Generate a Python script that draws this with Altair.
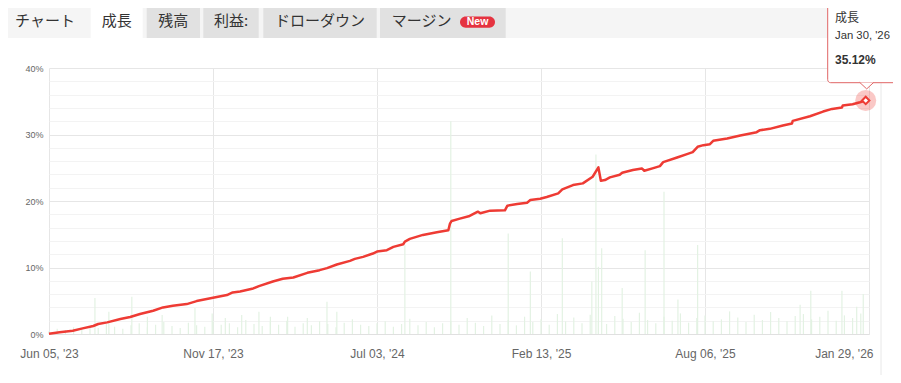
import json
import altair as alt
import pandas as pd

# ---------------- data ----------------
# x position of each reading, in trading-step units (0 .. 1000 across the axis)
step = [0, 13, 29, 41, 54, 60, 71, 87, 99, 111, 127, 139, 151, 168, 180, 200, 217, 224, 233, 249,
        256, 273, 285, 298, 315, 330, 339, 351, 367, 373, 383, 395, 400, 412, 420, 432, 434, 440, 456, 473,
        487, 489, 491, 501, 513, 523, 526, 538, 556, 559, 571, 583, 587, 599, 607, 621, 626, 639, 651, 663,
        670, 673, 678, 684, 696, 699, 712, 723, 726, 737, 745, 749, 766, 778, 785, 791, 798, 806, 810, 827,
        843, 863, 867, 879, 895, 906, 907, 928, 944, 955, 967, 968, 980, 989, 996]
growth = [0.05, 0.25, 0.5, 0.85, 1.2, 1.5, 1.75, 2.25, 2.55, 3.0, 3.5, 4.0, 4.25, 4.5, 4.95, 5.45, 5.85, 6.25, 6.4, 6.85,
          7.2, 7.9, 8.3, 8.5, 9.2, 9.6, 9.9, 10.45, 11.0, 11.3, 11.6, 12.1, 12.4, 12.6, 13.1, 13.5, 13.9, 14.3, 14.9, 15.3,
          15.6, 16.6, 17.0, 17.35, 17.75, 18.4, 18.15, 18.55, 18.6, 19.3, 19.55, 19.75, 20.15, 20.35, 20.6, 21.15, 21.75, 22.4, 22.65, 23.65,
          25.05, 23.05, 23.15, 23.55, 23.95, 24.25, 24.65, 24.9, 24.55, 24.95, 25.25, 25.85, 26.55, 27.05, 27.35, 28.15, 28.4, 28.55, 29.05, 29.4,
          29.85, 30.35, 30.65, 30.85, 31.35, 31.65, 32.05, 32.75, 33.45, 33.85, 34.05, 34.35, 34.55, 34.85, 35.12]

# faint green activity bars (position, height in %)
small_bar_step = [i * 10 for i in range(100)]
small_bar_h = [0.4, 0.8, 0.6, 1.0, 0.7, 1.2, 0.9, 1.5, 1.1, 0.8,
               1.3, 1.6, 1.0, 1.4, 1.8, 1.2, 0.9, 1.7, 1.3, 1.1,
               1.9, 1.4, 1.6, 1.0, 2.1, 1.5, 1.2, 1.8, 1.4, 2.0,
               1.1, 1.6, 1.3, 1.9, 1.5, 1.0, 1.7, 2.2, 1.4, 1.2,
               1.6, 1.9, 1.1, 1.5, 2.3, 1.3, 1.8, 1.0, 1.6, 2.0,
               1.4, 2.4, 1.7, 1.2, 2.8, 1.5, 2.1, 1.3, 2.6, 1.8,
               2.2, 1.4, 3.0, 1.9, 2.5, 1.6, 2.9, 2.0, 1.5, 2.7,
               2.3, 1.8, 3.2, 2.1, 1.6, 2.6, 2.0, 3.1, 1.7, 2.4,
               2.8, 1.9, 2.2, 3.4, 2.5, 1.8, 2.9, 2.1, 3.3, 2.4,
               1.9, 2.7, 3.0, 2.2, 2.6, 3.5, 2.0, 2.8, 2.4, 3.1]
spike_step = [56, 73, 101, 120, 138, 178, 199, 215, 235, 256, 270, 291, 315, 339, 351,
              434, 490, 560, 587, 626, 662, 667, 670, 674, 699, 727, 750, 767, 791,
              916, 929, 967, 985, 993]
spike_h = [5.4, 3.35, 5.6, 2.6, 2.85, 3.9, 3.1, 2.4, 2.85, 3.35, 2.6, 2.6, 2.4, 4.85, 3.35,
           13.4, 32.0, 15.1, 9.4, 14.4, 7.9, 27.0, 10.1, 12.9, 6.9, 12.6, 21.4, 5.2, 13.4,
           4.4, 6.5, 6.5, 4.1, 6.0]

tick_steps = [0, 200, 400, 600, 800, 1000]
tick_labels = ["Jun 05, '23", "Nov 17, '23", "Jul 03, '24", "Feb 13, '25", "Aug 06, '25", "Jan 29, '26"]
y_ticks = [0, 2, 4, 6, 8, 10, 12, 14, 16, 18, 20, 22, 24, 26, 28, 30, 32, 34, 36, 38, 40]

tabs = ["成長", "残高", "利益:", "ドローダウン", "マージン"]
tooltip_title = "成長"
tooltip_date = "Jan 30, '26"
tooltip_value = "35.12%"

# ---------------- styles / layout ----------------
RED = "#ee3b34"
W, H = 820, 266
tab_left = [41.7, 97.7, 154.3, 214.3, 331]
tab_right = [93.7, 151, 209.7, 327.7, 456.7]
tab_text_x = [67.7, 124.3, 182, 271, 372.7]
tab_fill = ["#ffffff", "#e1e1e1", "#e1e1e1", "#e1e1e1", "#e1e1e1"]

line_df = pd.DataFrame({"step": step, "growth": growth})
bars_df = pd.DataFrame({"step": small_bar_step + spike_step, "growth": small_bar_h + spike_h})
last_df = line_df.tail(1)

one = alt.Data(values=[{"a": 1}])

x_enc = alt.X("step:Q",
              scale=alt.Scale(domain=[0, 1000], nice=False),
              axis=alt.Axis(values=tick_steps, title=None, ticks=False,
                            labelExpr=f"{json.dumps(tick_labels)}[round(datum.value / 200)]",
                            labelAlign={"condition": {"test": "datum.value === 1000", "value": "right"}, "value": "center"},
                            labelOffset={"condition": {"test": "datum.value === 1000", "value": 4}, "value": 0},
                            labelOverlap=False,
                            labelFont="Liberation Sans", labelFontSize=12, labelColor="#666",
                            labelPadding=14, domainColor="#e0e0e0", gridColor="#e6e6e6"))
y_enc = alt.Y("growth:Q",
              scale=alt.Scale(domain=[0, 40], nice=False),
              axis=alt.Axis(values=y_ticks, title=None, ticks=False, domain=False,
                            labelExpr="datum.value % 10 === 0 ? datum.value + '%' : ''",
                            labelOverlap=False,
                            labelFont="Liberation Sans", labelFontSize=9, labelColor="#666",
                            labelPadding=6,
                            gridColor={"condition": {"test": "datum.value % 10 === 0", "value": "#e6e6e6"},
                                       "value": "#f3f3f3"}))

layers = []

# tab bar
layers.append(alt.Chart(one).mark_rect(color="#f5f5f5").encode(
    x=alt.value(-60), x2=alt.value(860), y=alt.value(-80), y2=alt.value(-30)))
for l, r, f in zip(tab_left, tab_right, tab_fill):
    layers.append(alt.Chart(one).mark_rect(color=f).encode(
        x=alt.value(l), x2=alt.value(r), y=alt.value(-64), y2=alt.value(-30)))
layers.append(alt.Chart(one).mark_text(text="チャート", font="Noto Sans CJK JP", fontSize=15,
                                       color="#333", align="center", baseline="middle").encode(
    x=alt.value(-4), y=alt.value(-47)))
for t, tx in zip(tabs, tab_text_x):
    layers.append(alt.Chart(one).mark_text(text=t, font="Noto Sans CJK JP", fontSize=15,
                                           color="#333", align="center", baseline="middle").encode(
        x=alt.value(tx), y=alt.value(-47)))
layers.append(alt.Chart(one).mark_rect(color="#e53340", cornerRadius=6).encode(
    x=alt.value(411), x2=alt.value(446), y=alt.value(-51.5), y2=alt.value(-40.3)))
layers.append(alt.Chart(one).mark_text(text="New", font="Liberation Sans", fontSize=10.5, fontWeight="bold",
                                       color="white", align="center", baseline="middle").encode(
    x=alt.value(428.5), y=alt.value(-45.8)))
# container border on the right
layers.append(alt.Chart(one).mark_rule(color="#e8e8e8").encode(
    x=alt.value(832), y=alt.value(-30), y2=alt.value(330)))

# activity bars
layers.append(alt.Chart(bars_df).mark_rule(color="#e3f2e3", strokeWidth=1.2).encode(
    x=x_enc, y=y_enc, y2=alt.datum(0)))

# growth line
layers.append(alt.Chart(line_df).mark_line(color=RED, strokeWidth=2.5, strokeJoin="round").encode(
    x=x_enc, y=y_enc))

# highlighted last point
layers.append(alt.Chart(last_df).mark_point(shape="circle", filled=True, color=RED, opacity=0.28, size=441).encode(
    x=x_enc, y=y_enc))
layers.append(alt.Chart(last_df).mark_point(shape="diamond", filled=True, fill="white", stroke=RED,
                                            strokeWidth=2, opacity=1, size=55).encode(
    x=x_enc, y=y_enc))

# tooltip
TT = "#e06666"
layers.append(alt.Chart(one).mark_rect(fill="white", stroke=TT, strokeWidth=1, cornerRadius=3).encode(
    x=alt.value(778.7), x2=alt.value(870), y=alt.value(-80), y2=alt.value(14.7)))
layers.append(alt.Chart(one).mark_point(shape="M-1,0L0,0.93L1,0", filled=True, fill="white", stroke=TT,
                                        strokeWidth=1, opacity=1, size=196).encode(
    x=alt.value(817.7), y=alt.value(14.4)))
layers.append(alt.Chart(one).mark_text(text=tooltip_title, font="Noto Sans CJK JP", fontSize=12,
                                       color="#333", align="left", baseline="middle").encode(
    x=alt.value(786), y=alt.value(-50)))
layers.append(alt.Chart(one).mark_text(text=tooltip_date, font="Liberation Sans", fontSize=11.3,
                                       color="#333", align="left", baseline="middle").encode(
    x=alt.value(786), y=alt.value(-32)))
layers.append(alt.Chart(one).mark_text(text=tooltip_value, font="Liberation Sans", fontSize=12,
                                       fontWeight="bold", color="#333", align="left", baseline="middle").encode(
    x=alt.value(786), y=alt.value(-7.7)))

chart = alt.layer(*layers).properties(
    width=W, height=H,
    padding={"left": 41, "top": 60, "right": 24, "bottom": 41},
    autosize=alt.AutoSizeParams(type="none"),
    background="white",
).configure_view(strokeWidth=0)

chart.save("out.html", embed_options={"renderer": "svg", "actions": False})
